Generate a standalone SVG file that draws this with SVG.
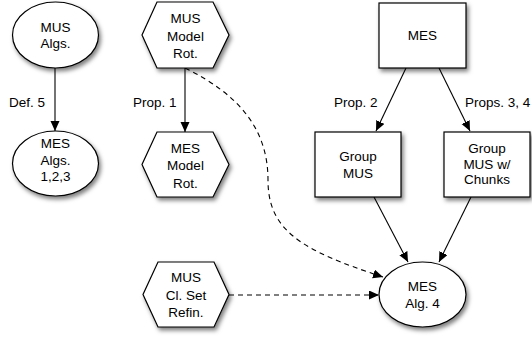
<svg xmlns="http://www.w3.org/2000/svg" width="532" height="337" viewBox="0 0 532 337">
<defs>
<filter id="sh" x="-20%" y="-20%" width="150%" height="160%">
<feDropShadow dx="2" dy="3" stdDeviation="2" flood-color="#000" flood-opacity="0.5"/>
</filter>
<marker id="ah" markerUnits="userSpaceOnUse" markerWidth="11" markerHeight="10" refX="10" refY="4.5" orient="auto">
<path d="M0,0 L10,4.5 L0,9 z" fill="#000"/>
</marker>
</defs>
<style>
.n{fill:#fff;stroke:#000;stroke-width:1.2;filter:url(#sh)}
text{font-family:"Liberation Sans",Arial,Helvetica,sans-serif;font-size:13.5px;fill:#000}
.c{text-anchor:middle}
.e{fill:none;stroke:#000;stroke-width:1.1;marker-end:url(#ah)}
.d{stroke-dasharray:5,4}
</style>
<g id="connectors">
<path class="e" d="M55,68 L55,131"/>
<path class="e" d="M185,68 L185,132"/>
<path class="e" d="M406,68 L376,131"/>
<path class="e" d="M439,68 L470,131"/>
<path class="e" d="M374,197 L408,262"/>
<path class="e" d="M471,197 L439,262"/>
<path class="e d" d="M229,295 L379,295"/>
<path class="e d" d="M185,68 C240,95 268,130 268,180 C268,230 300,250 383,277"/>
<text x="9" y="106.5">Def. 5</text>
<text x="133" y="106.5">Prop. 1</text>
<text x="334" y="106.5">Prop. 2</text>
<text x="465" y="106.5">Props. 3, 4</text>
</g>
<g id="mus-algs">
<ellipse class="n" cx="55.5" cy="35" rx="43" ry="33"/>
<text class="c" x="55.5" y="31.7">MUS</text>
<text class="c" x="55.5" y="47.7">Algs.</text>
</g>
<g id="mes-algs">
<ellipse class="n" cx="55.5" cy="163.5" rx="43" ry="32.5"/>
<text class="c" x="55.5" y="148">MES</text>
<text class="c" x="55.5" y="164.5">Algs.</text>
<text class="c" x="55.5" y="181">1,2,3</text>
</g>
<g id="mus-model-rot">
<polygon class="n" points="142,35 157,2 213,2 229,35 213,68 157,68"/>
<text class="c" x="185.5" y="23">MUS</text>
<text class="c" x="185.5" y="40.5">Model</text>
<text class="c" x="185.5" y="58">Rot.</text>
</g>
<g id="mes-model-rot">
<polygon class="n" points="142,164.5 157,132 213,132 229,164.5 213,197 157,197"/>
<text class="c" x="185.5" y="152.5">MES</text>
<text class="c" x="185.5" y="170">Model</text>
<text class="c" x="185.5" y="187.5">Rot.</text>
</g>
<g id="mus-cl-set-refin">
<polygon class="n" points="143,294.5 158,262 214,262 229,294.5 214,327 158,327"/>
<text class="c" x="186" y="282">MUS</text>
<text class="c" x="186" y="299.5">Cl. Set</text>
<text class="c" x="186" y="317">Refin.</text>
</g>
<g id="mes">
<rect class="n" x="379" y="3" width="87" height="65"/>
<text class="c" x="422.5" y="40">MES</text>
</g>
<g id="group-mus">
<rect class="n" x="315" y="132" width="86" height="65"/>
<text class="c" x="358" y="161">Group</text>
<text class="c" x="358" y="177.5">MUS</text>
</g>
<g id="group-mus-chunks">
<rect class="n" x="444" y="132" width="86" height="65"/>
<text class="c" x="487" y="153">Group</text>
<text class="c" x="487" y="168.5">MUS w/</text>
<text class="c" x="487" y="184">Chunks</text>
</g>
<g id="mes-alg-4">
<ellipse class="n" cx="422.5" cy="294.5" rx="43.5" ry="32.5"/>
<text class="c" x="422.5" y="291">MES</text>
<text class="c" x="422.5" y="308">Alg. 4</text>
</g>
</svg>
